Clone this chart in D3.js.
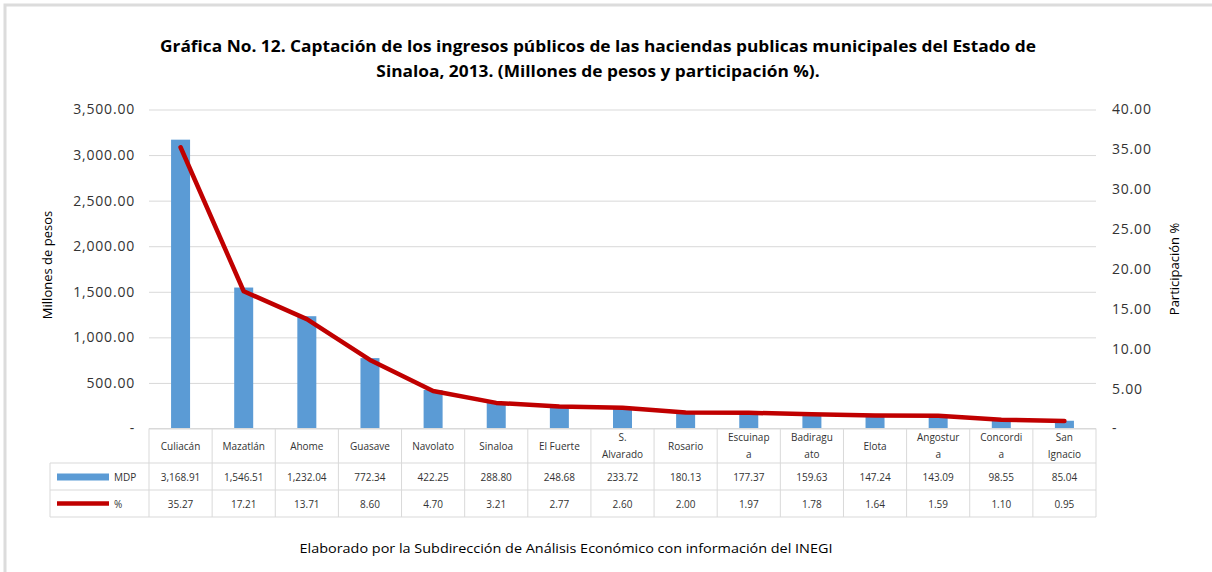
<!DOCTYPE html>
<html>
<head>
<meta charset="utf-8">
<script src="https://cdn.jsdelivr.net/npm/d3@7"></script>
<style>
  body { margin: 0; background: #fff; }
  svg { display: block; }
  text { font-family: "Open Sans", sans-serif; }
</style>
</head>
<body>
<svg id="chart"></svg>
<script>
// datos
const categories = ["Culiacán", "Mazatlán", "Ahome", "Guasave", "Navolato", "Sinaloa", "El Fuerte",
    "S.\nAlvarado", "Rosario", "Escuinap\na", "Badiragu\nato", "Elota", "Angostur\na", "Concordi\na", "San\nIgnacio"];
const mdp = [3168.91, 1546.51, 1232.04, 772.34, 422.25, 288.80, 248.68, 233.72, 180.13, 177.37, 159.63, 147.24, 143.09, 98.55, 85.04];
const pct = [35.27, 17.21, 13.71, 8.60, 4.70, 3.21, 2.77, 2.60, 2.00, 1.97, 1.78, 1.64, 1.59, 1.10, 0.95];
const leftTicks = [0, 500, 1000, 1500, 2000, 2500, 3000, 3500];
const rightTicks = [0, 5, 10, 15, 20, 25, 30, 35, 40];
const seriesNames = ["MDP", "%"];

const width = 1212, height = 572;
const plot = { left: 149, right: 1096, top: 109.5, bottom: 428.5 };
const rows = { header: 463, mdp: 490, pct: 517, legendLeft: 50 };
const gridColor = "#d9d9d9";
const textColor = "#333333";

const svg = d3.select("#chart").attr("width", width).attr("height", height);

// marco
svg.append("path")
    .attr("d", `M5,${height} L5,5 L${width},5`)
    .attr("fill", "none")
    .attr("stroke", "#dcdcdc")
    .attr("stroke-width", 3);

// escalas
const x = d3.scaleBand().domain(categories).range([plot.left, plot.right]).padding(0);
const yLeft = d3.scaleLinear().domain([0, 3500]).range([plot.bottom, plot.top]);
const yRight = d3.scaleLinear().domain([0, 40]).range([plot.bottom, plot.top]);

const fmt = d3.format(",.2f");
const tickFmt = d => d === 0 ? "-" : fmt(d);

// eje izquierdo + cuadricula
const leftAxis = svg.append("g")
    .attr("transform", `translate(${plot.left},0)`)
    .call(d3.axisLeft(yLeft).tickValues(leftTicks).tickFormat(tickFmt)
        .tickSize(-(plot.right - plot.left)).tickPadding(14));
leftAxis.select(".domain").remove();
leftAxis.selectAll("line").attr("stroke", gridColor);
leftAxis.selectAll("text")
    .attr("fill", textColor).attr("font-size", 14).attr("letter-spacing", 0.8);

// eje derecho
const rightAxis = svg.append("g")
    .attr("transform", `translate(${plot.right},0)`)
    .call(d3.axisRight(yRight).tickValues(rightTicks).tickFormat(tickFmt)
        .tickSize(0).tickPadding(16));
rightAxis.select(".domain").remove();
rightAxis.selectAll("text")
    .attr("fill", textColor).attr("font-size", 14).attr("letter-spacing", 0.8);

// titulos de ejes
svg.append("text")
    .attr("transform", `translate(52,265) rotate(-90)`)
    .attr("text-anchor", "middle")
    .attr("font-size", 13).attr("fill", "#000")
    .text("Millones de pesos");
svg.append("text")
    .attr("transform", `translate(1179,269) rotate(-90)`)
    .attr("text-anchor", "middle")
    .attr("font-size", 13).attr("fill", "#000")
    .text("Participación %");

// barras
const barW = 19;
svg.append("g").selectAll("rect")
    .data(mdp)
    .enter()
    .append("rect")
    .attr("x", (d, i) => x(categories[i]) + x.bandwidth() / 2 - barW / 2)
    .attr("y", d => yLeft(d))
    .attr("width", barW)
    .attr("height", d => yLeft(0) - yLeft(d))
    .attr("fill", "#5b9bd5");

// linea
const line = d3.line()
    .x((d, i) => x(categories[i]) + x.bandwidth() / 2)
    .y(d => yRight(d));
svg.append("path")
    .datum(pct)
    .attr("d", line)
    .attr("fill", "none")
    .attr("stroke", "#c00000")
    .attr("stroke-width", 4.5)
    .attr("stroke-linejoin", "round")
    .attr("stroke-linecap", "round");

// tabla de datos
const table = svg.append("g");
const hLines = [
    { y: plot.bottom, x1: plot.left },
    { y: rows.header, x1: rows.legendLeft },
    { y: rows.mdp, x1: rows.legendLeft },
    { y: rows.pct, x1: rows.legendLeft }
];
table.selectAll(".hl").data(hLines).enter().append("line")
    .attr("x1", d => d.x1).attr("x2", plot.right)
    .attr("y1", d => d.y).attr("y2", d => d.y)
    .attr("stroke", gridColor);

const vLines = categories.map(c => x(c)).concat([plot.right]);
table.selectAll(".vl").data(vLines).enter().append("line")
    .attr("x1", d => d).attr("x2", d => d)
    .attr("y1", plot.bottom).attr("y2", rows.pct)
    .attr("stroke", gridColor);
table.append("line")
    .attr("x1", rows.legendLeft).attr("x2", rows.legendLeft)
    .attr("y1", rows.header).attr("y2", rows.pct)
    .attr("stroke", gridColor);

// encabezados
const headerMid = (plot.bottom + rows.header) / 2;
categories.forEach(c => {
    const parts = c.split("\n");
    const t = table.append("text")
        .attr("x", x(c) + x.bandwidth() / 2)
        .attr("text-anchor", "middle")
        .attr("font-size", 10).attr("fill", textColor);
    parts.forEach((p, j) => {
        t.append("tspan")
            .attr("x", x(c) + x.bandwidth() / 2)
            .attr("y", headerMid + 4 + (j - (parts.length - 1) / 2) * 17)
            .text(p);
    });
});

// valores
[[mdp, rows.header, rows.mdp, fmt], [pct, rows.mdp, rows.pct, d3.format(".2f")]].forEach(([vals, y0, y1, f]) => {
    table.selectAll(null).data(vals).enter().append("text")
        .attr("x", (d, i) => x(categories[i]) + x.bandwidth() / 2)
        .attr("y", (y0 + y1) / 2 + 4)
        .attr("text-anchor", "middle")
        .attr("font-size", 10).attr("fill", textColor)
        .text(d => f(d));
});

// leyenda
const mdpMid = (rows.header + rows.mdp) / 2;
const pctMid = (rows.mdp + rows.pct) / 2;
table.append("rect")
    .attr("x", 57).attr("y", mdpMid - 3).attr("width", 52).attr("height", 7)
    .attr("fill", "#5b9bd5");
table.append("line")
    .attr("x1", 57).attr("x2", 109).attr("y1", pctMid).attr("y2", pctMid)
    .attr("stroke", "#c00000").attr("stroke-width", 4.5);
table.append("text")
    .attr("x", 114).attr("y", mdpMid + 4)
    .attr("font-size", 10).attr("fill", textColor)
    .text(seriesNames[0]);
table.append("text")
    .attr("x", 114).attr("y", pctMid + 4)
    .attr("font-size", 10).attr("fill", textColor)
    .text(seriesNames[1]);

// titulo: misma compresion horizontal en ambas lineas
const titleLines = [
    "Gráfica No. 12. Captación de los ingresos públicos de las haciendas publicas municipales del Estado de",
    "Sinaloa, 2013. (Millones de pesos y participación %)."
];
const titleTexts = titleLines.map((s, i) => svg.append("text")
    .attr("x", 598).attr("y", 52 + i * 25)
    .attr("text-anchor", "middle")
    .attr("font-size", 16).attr("font-weight", "bold").attr("fill", "#000")
    .text(s));
const squeeze = 876 / titleTexts[0].node().getComputedTextLength();
titleTexts.forEach(t => {
    t.attr("textLength", t.node().getComputedTextLength() * squeeze)
        .attr("lengthAdjust", "spacingAndGlyphs");
});

// fuente
svg.append("text")
    .attr("x", 566).attr("y", 553)
    .attr("text-anchor", "middle")
    .attr("font-size", 12).attr("fill", "#000")
    .attr("textLength", 533).attr("lengthAdjust", "spacingAndGlyphs")
    .text("Elaborado por la Subdirección de Análisis Económico con información del INEGI");
</script>
</body>
</html>
